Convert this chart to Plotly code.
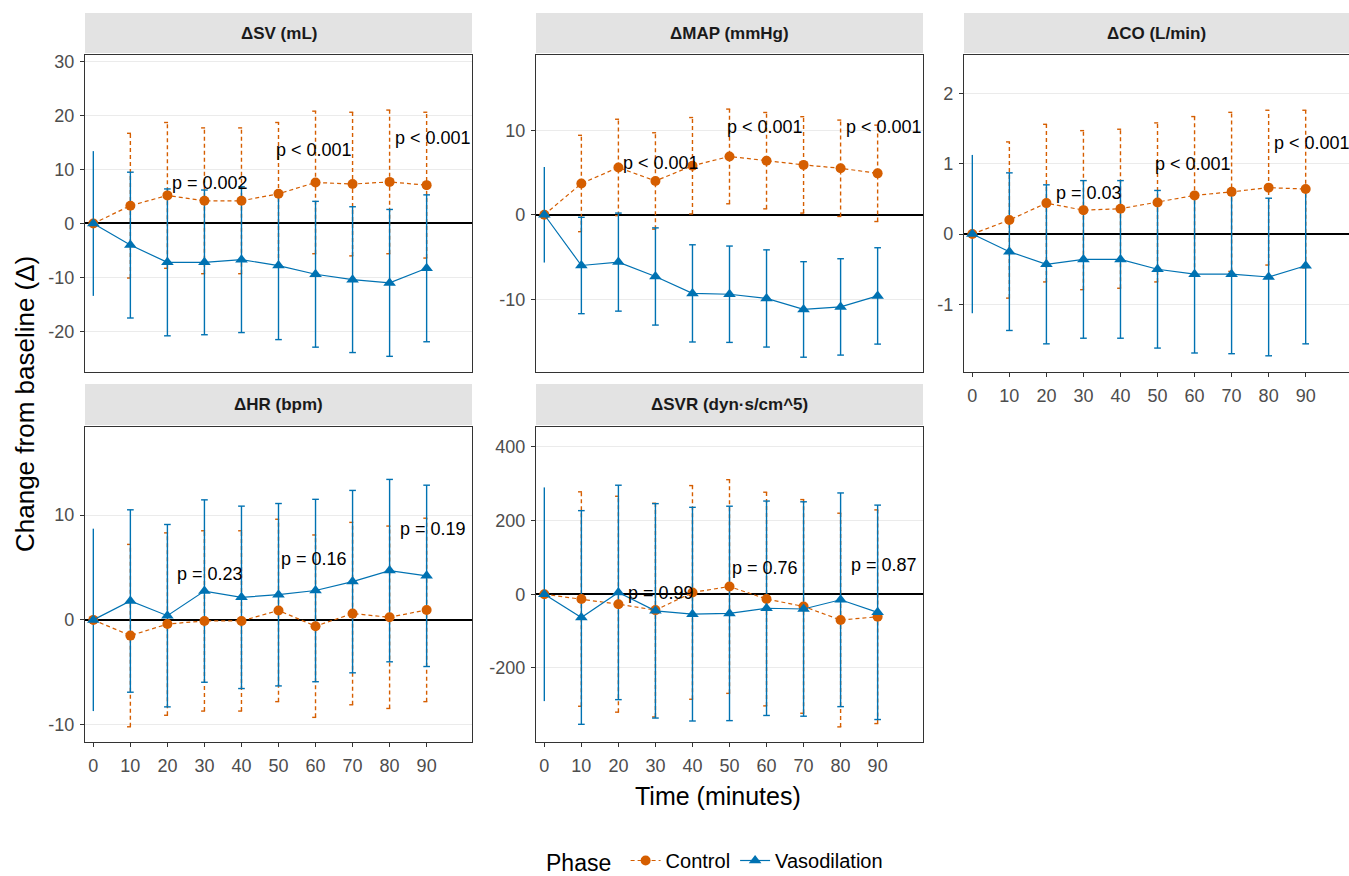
import plotly.graph_objects as go

W, H = 1349, 876

time = [0, 10, 20, 30, 40, 50, 60, 70, 80, 90]
tick_labels_x = ["0", "10", "20", "30", "40", "50", "60", "70", "80", "90"]

# ---- data (mean and SD) per panel ----
sv_ctrl_mean = [0, 3.3, 5.2, 4.2, 4.2, 5.5, 7.6, 7.3, 7.7, 7.1]
sv_ctrl_sd = [0, 13.4, 13.5, 13.5, 13.5, 13.2, 13.2, 13.3, 13.3, 13.5]
sv_vaso_mean = [0, -4.0, -7.2, -7.2, -6.7, -7.8, -9.4, -10.4, -11.0, -8.3]
sv_vaso_sd = [13.4, 13.5, 13.6, 13.4, 13.5, 13.7, 13.5, 13.5, 13.6, 13.6]

map_ctrl_mean = [0, 3.7, 5.6, 4.0, 5.8, 6.9, 6.4, 5.9, 5.5, 4.9]
map_ctrl_sd = [0, 5.7, 5.7, 5.7, 5.7, 5.6, 5.7, 5.7, 5.7, 5.7]
map_vaso_mean = [0, -6.0, -5.6, -7.3, -9.3, -9.4, -9.9, -11.2, -10.9, -9.6]
map_vaso_sd = [5.65, 5.7, 5.8, 5.75, 5.75, 5.7, 5.75, 5.65, 5.7, 5.7]

co_ctrl_mean = [0, 0.20, 0.44, 0.34, 0.36, 0.45, 0.55, 0.60, 0.66, 0.64]
co_ctrl_sd = [0, 1.11, 1.12, 1.13, 1.13, 1.13, 1.12, 1.13, 1.10, 1.12]
co_vaso_mean = [0, -0.25, -0.43, -0.36, -0.36, -0.50, -0.57, -0.57, -0.61, -0.45]
co_vaso_sd = [1.125, 1.12, 1.13, 1.12, 1.12, 1.12, 1.12, 1.13, 1.12, 1.11]

hr_ctrl_mean = [0, -1.5, -0.4, -0.1, -0.1, 0.9, -0.6, 0.6, 0.25, 0.95]
hr_ctrl_sd = [0, 8.7, 8.7, 8.6, 8.6, 8.7, 8.7, 8.7, 8.7, 8.75]
hr_vaso_mean = [0, 1.8, 0.4, 2.75, 2.15, 2.4, 2.8, 3.65, 4.7, 4.2]
hr_vaso_sd = [8.7, 8.7, 8.7, 8.7, 8.7, 8.7, 8.7, 8.7, 8.7, 8.65]

svr_ctrl_mean = [0, -13, -27, -43, 5, 21, -13, -33, -70, -61]
svr_ctrl_sd = [0, 291, 293, 290, 290, 290, 290, 290, 290, 290]
svr_vaso_mean = [0, -63, 5, -45, -54, -52, -38, -40, -15, -49]
svr_vaso_sd = [290, 290, 291, 291, 290, 291, 291, 291, 290, 291]

panel_titles = ["ΔSV (mL)", "ΔMAP (mmHg)", "ΔCO (L/min)", "ΔHR (bpm)", "ΔSVR (dyn·s/cm^5)"]

p_x = [31.5, 59.7, 91.8]
sv_p_text = ["p = 0.002", "p < 0.001", "p < 0.001"]
sv_p_y = [7.5, 13.6, 15.8]
map_p_text = ["p < 0.001", "p < 0.001", "p < 0.001"]
map_p_y = [6.1, 10.4, 10.4]
co_p_text = ["p = 0.03", "p < 0.001", "p < 0.001"]
co_p_y = [0.59, 1.0, 1.30]
hr_p_text = ["p = 0.23", "p = 0.16", "p = 0.19"]
hr_p_y = [4.35, 5.8, 8.65]
svr_p_text = ["p = 0.99", "p = 0.76", "p = 0.87"]
svr_p_y = [3, 72, 80]

sv_yticks = [-20, -10, 0, 10, 20, 30]
map_yticks = [-10, 0, 10]
co_yticks = [-1, 0, 1, 2]
hr_yticks = [-10, 0, 10]
svr_yticks = [-200, 0, 200, 400]

sv_yrange = [-27.5, 31.2]
map_yrange = [-18.6, 18.9]
co_yrange = [-1.96, 2.545]
hr_yrange = [-11.65, 18.4]
svr_yrange = [-401, 454]

CTRL = "#D55E00"
VASO = "#0072B2"
FONT = "Liberation Sans, Arial, sans-serif"

panels = [
    dict(cm=sv_ctrl_mean, cs=sv_ctrl_sd, vm=sv_vaso_mean, vs=sv_vaso_sd, pt=sv_p_text, py=sv_p_y,
         yt=sv_yticks, yr=sv_yrange, col=0, row=0, xlab=False),
    dict(cm=map_ctrl_mean, cs=map_ctrl_sd, vm=map_vaso_mean, vs=map_vaso_sd, pt=map_p_text, py=map_p_y,
         yt=map_yticks, yr=map_yrange, col=1, row=0, xlab=False),
    dict(cm=co_ctrl_mean, cs=co_ctrl_sd, vm=co_vaso_mean, vs=co_vaso_sd, pt=co_p_text, py=co_p_y,
         yt=co_yticks, yr=co_yrange, col=2, row=0, xlab=True),
    dict(cm=hr_ctrl_mean, cs=hr_ctrl_sd, vm=hr_vaso_mean, vs=hr_vaso_sd, pt=hr_p_text, py=hr_p_y,
         yt=hr_yticks, yr=hr_yrange, col=0, row=1, xlab=True),
    dict(cm=svr_ctrl_mean, cs=svr_ctrl_sd, vm=svr_vaso_mean, vs=svr_vaso_sd, pt=svr_p_text, py=svr_p_y,
         yt=svr_yticks, yr=svr_yrange, col=1, row=1, xlab=True),
]

col_px = [(85, 472), (536, 923), (964, 1349)]
row_px = [(55, 372), (427, 742)]
strip_px = [(13, 53), (384, 425)]
x_ranges = [[-2.25, 102.25], [-2.25, 102.25], [-2.25, 101.7]]


def px_x(v):
    return v / W


def px_y(v):
    return 1 - v / H


def err_segments(xs, means, sds, cap):
    sx, sy = [], []
    for x, m, s in zip(xs, means, sds):
        if s == 0:
            continue
        lo, hi = m - s, m + s
        sx += [x, x, None]
        sy += [lo, hi, None]
        if x != 0:
            sx += [x - cap, x + cap, None, x - cap, x + cap, None]
            sy += [lo, lo, None, hi, hi, None]
    return sx, sy


fig = go.Figure()
shapes = []
annotations = []

for i, p in enumerate(panels):
    n = "" if i == 0 else str(i + 1)
    xa, ya = "x" + n, "y" + n
    c, r = p["col"], p["row"]

    # error bars
    ex, ey = err_segments(time, p["cm"], p["cs"], 0.9)
    fig.add_trace(go.Scatter(x=ex, y=ey, mode="lines", xaxis=xa, yaxis=ya,
                             line=dict(color=CTRL, width=1.4, dash="4px,3px"),
                             showlegend=False, hoverinfo="skip"))
    ex, ey = err_segments(time, p["vm"], p["vs"], 0.9)
    fig.add_trace(go.Scatter(x=ex, y=ey, mode="lines", xaxis=xa, yaxis=ya,
                             line=dict(color=VASO, width=1.4),
                             showlegend=False, hoverinfo="skip"))
    # lines + markers
    fig.add_trace(go.Scatter(x=time, y=p["cm"], mode="lines+markers", name="Control",
                             xaxis=xa, yaxis=ya, legendgroup="c", showlegend=(i == 0),
                             line=dict(color=CTRL, width=1.2, dash="4px,3px"),
                             marker=dict(symbol="circle", size=10, color=CTRL)))
    fig.add_trace(go.Scatter(x=time, y=p["vm"], mode="lines+markers", name="Vasodilation",
                             xaxis=xa, yaxis=ya, legendgroup="v", showlegend=(i == 0),
                             line=dict(color=VASO, width=1.2),
                             marker=dict(symbol="triangle-up", size=11, color=VASO)))

    xd = [px_x(col_px[c][0]), min(1.0, px_x(col_px[c][1]))]
    yd = [px_y(row_px[r][1]), px_y(row_px[r][0])]
    fig.layout["xaxis" + n] = dict(
        domain=xd, range=x_ranges[c], anchor=ya,
        tickvals=time, ticktext=tick_labels_x, showticklabels=p["xlab"],
        ticks="outside" if p["xlab"] else "", ticklen=4, tickcolor="#333333",
        ticklabelstandoff=3,
        tickfont=dict(family=FONT, size=18, color="#4D4D4D"),
        showgrid=False, zeroline=False,
        showline=True, mirror=True, linecolor="#333333", linewidth=1.2)
    fig.layout["yaxis" + n] = dict(
        domain=yd, range=p["yr"], anchor=xa,
        tickvals=p["yt"], ticktext=[str(v) for v in p["yt"]],
        ticks="outside", ticklen=4, tickcolor="#333333",
        ticklabelstandoff=2,
        tickfont=dict(family=FONT, size=18, color="#4D4D4D"),
        showgrid=True, gridcolor="#EBEBEB", gridwidth=1,
        zeroline=True, zerolinecolor="black", zerolinewidth=2.2,
        showline=True, mirror=True, linecolor="#333333", linewidth=1.2)

    # strip
    sy0, sy1 = strip_px[r]
    shapes.append(dict(type="rect", xref="paper", yref="paper",
                       x0=xd[0], x1=xd[1] if c < 2 else px_x(col_px[c][1]),
                       y0=px_y(sy1), y1=px_y(sy0),
                       fillcolor="#E3E3E3", line=dict(width=0), layer="below"))
    annotations.append(dict(xref="paper", yref="paper",
                            x=px_x((col_px[c][0] + col_px[c][1]) / 2),
                            y=px_y((sy0 + sy1) / 2), text="<b>" + panel_titles[i] + "</b>",
                            showarrow=False, font=dict(family=FONT, size=17, color="#1A1A1A"),
                            xanchor="center", yanchor="middle"))
    # p-value labels
    for tx, ty, tt in zip(p_x, p["py"], p["pt"]):
        annotations.append(dict(xref=xa, yref=ya, x=tx, y=ty, text=tt, showarrow=False,
                                font=dict(family=FONT, size=18, color="black"),
                                xanchor="center", yanchor="middle"))

annotations.append(dict(xref="paper", yref="paper", x=px_x(25), y=px_y(404),
                        text="Change from baseline (Δ)", textangle=-90, showarrow=False,
                        font=dict(family=FONT, size=26, color="black"),
                        xanchor="center", yanchor="middle"))
annotations.append(dict(xref="paper", yref="paper", x=px_x(718), y=px_y(796),
                        text="Time (minutes)", showarrow=False,
                        font=dict(family=FONT, size=25, color="black"),
                        xanchor="center", yanchor="middle"))

fig.update_layout(
    width=W, height=H,
    margin=dict(l=0, r=0, t=0, b=0, autoexpand=False),
    paper_bgcolor="white", plot_bgcolor="white",
    shapes=shapes, annotations=annotations,
    showlegend=True,
    legend=dict(orientation="h", x=px_x(716), y=px_y(861), xanchor="center", yanchor="middle",
                title=dict(text="Phase ", side="left",
                           font=dict(family=FONT, size=23, color="black")),
                font=dict(family=FONT, size=20, color="black"),
                itemwidth=30, bgcolor="rgba(0,0,0,0)"),
)

fig.write_html("out.html", config={"displayModeBar": False},
               post_script="document.body.style.margin='0';")
